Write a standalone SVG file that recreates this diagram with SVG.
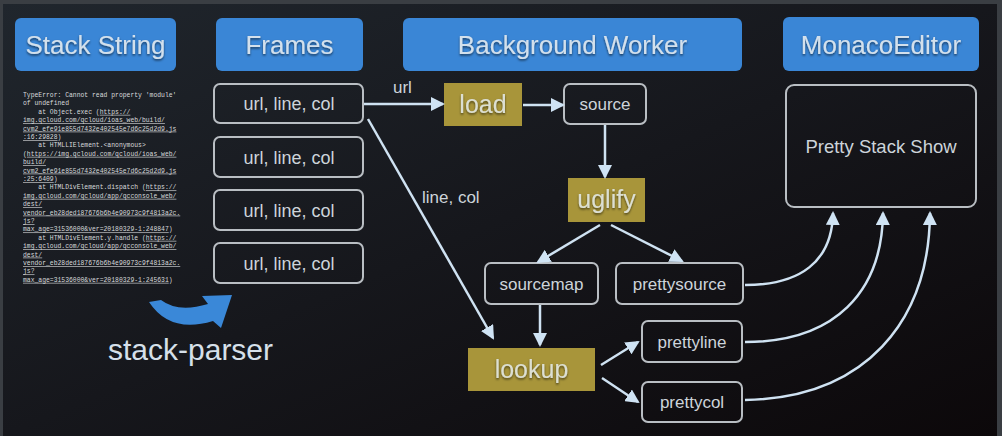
<svg xmlns="http://www.w3.org/2000/svg" width="1002" height="436" viewBox="0 0 1002 436">
<defs>
<linearGradient id="bg" x1="0" y1="0" x2="1" y2="1">
<stop offset="0" stop-color="#20262d"/>
<stop offset="0.5" stop-color="#16171c"/>
<stop offset="1" stop-color="#0c080a"/>
</linearGradient>
<filter id="ts" x="-10%" y="-20%" width="120%" height="150%">
<feDropShadow dx="0" dy="1.5" stdDeviation="1" flood-color="#000" flood-opacity="0.6"/>
</filter>
<marker id="ah" viewBox="0 0 14 14" refX="12" refY="7" markerWidth="14" markerHeight="14" markerUnits="userSpaceOnUse" orient="auto">
<path d="M0,0 L14,7 L0,14 Z" fill="#cfe3f4"/>
</marker>
</defs>
<style>
.hdr{fill:#3a86d6}
.ht{font-family:"Liberation Sans",Arial,sans-serif;font-size:26px;fill:#d3e0ec;text-anchor:middle}
.box{fill:none;stroke:#b9bec3;stroke-width:2}
.gold{fill:#a8953a}
.nt{font-family:"Liberation Sans",Arial,sans-serif;font-size:17px;fill:#cdd4da;text-anchor:middle}
.ft{font-family:"Liberation Sans",Arial,sans-serif;font-size:18px;fill:#cdd4da;text-anchor:middle}
.gt{font-family:"Liberation Sans",Arial,sans-serif;font-size:25px;fill:#dcdfd3;text-anchor:middle}
.lbl{font-family:"Liberation Sans",Arial,sans-serif;font-size:17px;fill:#cdd4da}
.con{fill:none;stroke:#cfe2f2;stroke-width:2.5;marker-end:url(#ah)}
.code{font-family:"Liberation Mono","DejaVu Sans Mono",monospace;font-size:6.4px;fill:#d8dadc}
.u{text-decoration:underline}
</style>
<rect x="0" y="0" width="1002" height="436" fill="#3a3e43"/>
<rect x="3" y="4" width="994" height="432" fill="url(#bg)"/>

<g id="hdr-stack"><rect class="hdr" x="15" y="18" width="161" height="53" rx="6"/><text class="ht" x="95.5" y="54" filter="url(#ts)">Stack String</text></g>
<g id="hdr-frames"><rect class="hdr" x="216" y="18" width="147" height="53" rx="6"/><text class="ht" x="289.5" y="54" filter="url(#ts)">Frames</text></g>
<g id="hdr-worker"><rect class="hdr" x="403" y="18" width="339" height="53" rx="6"/><text class="ht" x="572.5" y="54" filter="url(#ts)">Background Worker</text></g>
<g id="hdr-monaco"><rect class="hdr" x="783" y="17" width="196" height="54" rx="6"/><text class="ht" x="881" y="54" filter="url(#ts)">MonacoEditor</text></g>

<g id="stack-string" class="code">
<text x="23" y="97">TypeError: Cannot read property 'module'</text>
<text x="23" y="105.4">of undefined</text>
<text x="23" y="113.8" xml:space="preserve">    at Object.exec (<tspan class="u">https://</tspan></text>
<text x="23" y="122.2" class="u">img.qcloud.com/qcloud/ioas_web/build/</text>
<text x="23" y="130.6" class="u">cvm2_efe91e855d7432e402545e7d6c25d2d9.js</text>
<text x="23" y="139"><tspan class="u">:16:29828</tspan>)</text>
<text x="23" y="147.4" xml:space="preserve">    at HTMLLIElement.&lt;anonymous&gt;</text>
<text x="23" y="155.8">(<tspan class="u">https://img.qcloud.com/qcloud/ioas_web/</tspan></text>
<text x="23" y="164.2" class="u">build/</text>
<text x="23" y="172.6" class="u">cvm2_efe91e855d7432e402545e7d6c25d2d9.js</text>
<text x="23" y="181"><tspan class="u">:25:6409</tspan>)</text>
<text x="23" y="189.4" xml:space="preserve">    at HTMLDivElement.dispatch (<tspan class="u">https://</tspan></text>
<text x="23" y="197.8" class="u">img.qcloud.com/qcloud/app/qcconsole_web/</text>
<text x="23" y="206.2" class="u">dest/</text>
<text x="23" y="214.6" class="u">vendor_eb28ded187676b6b4e90973c9f4813a2c.</text>
<text x="23" y="223" class="u">js?</text>
<text x="23" y="231.4"><tspan class="u">max_age=31536000&amp;ver=20180329-1:248847</tspan>)</text>
<text x="23" y="239.8" xml:space="preserve">    at HTMLDivElement.y.handle (<tspan class="u">https://</tspan></text>
<text x="23" y="248.2" class="u">img.qcloud.com/qcloud/app/qcconsole_web/</text>
<text x="23" y="256.6" class="u">dest/</text>
<text x="23" y="265" class="u">vendor_eb28ded187676b6b4e90973c9f4813a2c.</text>
<text x="23" y="273.4" class="u">js?</text>
<text x="23" y="281.8"><tspan class="u">max_age=31536000&amp;ver=20180329-1:245631</tspan>)</text>
</g>

<g id="stack-parser">
<path d="M149,302 Q170,334 213,321 L221,328 L232,295 L202,296 L208,304 Q178,313 161,300 Z" fill="#3a88d8"/>
<text x="108" y="360" font-family="'Liberation Sans',Arial,sans-serif" font-size="30" fill="#d6e0ea">stack-parser</text>
</g>

<g id="frame1"><rect class="box" x="214" y="84" width="149" height="39" rx="6"/><text class="ft" x="289" y="110">url, line, col</text></g>
<g id="frame2"><rect class="box" x="214" y="137" width="149" height="40" rx="6"/><text class="ft" x="289" y="163.5">url, line, col</text></g>
<g id="frame3"><rect class="box" x="214" y="190" width="149" height="40" rx="6"/><text class="ft" x="289" y="216.5">url, line, col</text></g>
<g id="frame4"><rect class="box" x="214" y="243" width="149" height="40" rx="6"/><text class="ft" x="289" y="269.5">url, line, col</text></g>

<g id="load"><rect class="gold" x="444" y="83" width="78" height="43"/><text class="gt" x="483" y="113" filter="url(#ts)">load</text></g>
<g id="source"><rect class="box" x="564" y="84" width="82" height="40" rx="6"/><text class="nt" x="605" y="110">source</text></g>
<g id="uglify"><rect class="gold" x="568" y="178" width="77" height="44"/><text class="gt" x="606.5" y="208" filter="url(#ts)">uglify</text></g>
<g id="sourcemap"><rect class="box" x="485" y="263" width="113" height="41" rx="6"/><text class="nt" x="541.5" y="289.5">sourcemap</text></g>
<g id="prettysource"><rect class="box" x="616" y="263" width="127" height="41" rx="6"/><text class="nt" x="679.5" y="289.5">prettysource</text></g>
<g id="lookup"><rect class="gold" x="468" y="348" width="127" height="43"/><text class="gt" x="531.5" y="378" filter="url(#ts)">lookup</text></g>
<g id="prettyline"><rect class="box" x="642" y="321" width="100" height="41" rx="6"/><text class="nt" x="692" y="347.5">prettyline</text></g>
<g id="prettycol"><rect class="box" x="642" y="382" width="100" height="40" rx="6"/><text class="nt" x="692" y="408">prettycol</text></g>
<g id="pretty-stack-show"><rect class="box" x="786" y="85" width="190" height="122" rx="8"/><text x="881" y="153" font-family="'Liberation Sans',Arial,sans-serif" font-size="18.5" fill="#cdd4da" text-anchor="middle">Pretty Stack Show</text></g>

<g id="connectors">
<path class="con" d="M364,104 L443,104"/>
<path class="con" d="M523,105 L563,105"/>
<path class="con" d="M605,125 L605,177"/>
<path class="con" d="M600,225 L538,262"/>
<path class="con" d="M611,225 L682,261"/>
<path class="con" d="M540,305 L540,345"/>
<path class="con" d="M368,119 L493,338"/>
<path class="con" d="M601,365 L638,342"/>
<path class="con" d="M602,378 L638,402"/>
<path class="con" d="M745,285 C800,285 832,262 833,213"/>
<path class="con" d="M745,342 C835,342 882,292 883,213"/>
<path class="con" d="M745,400 C865,398 929,322 930,213"/>
<text class="lbl" x="393" y="93">url</text>
<text class="lbl" x="422" y="203">line, col</text>
</g>
</svg>
